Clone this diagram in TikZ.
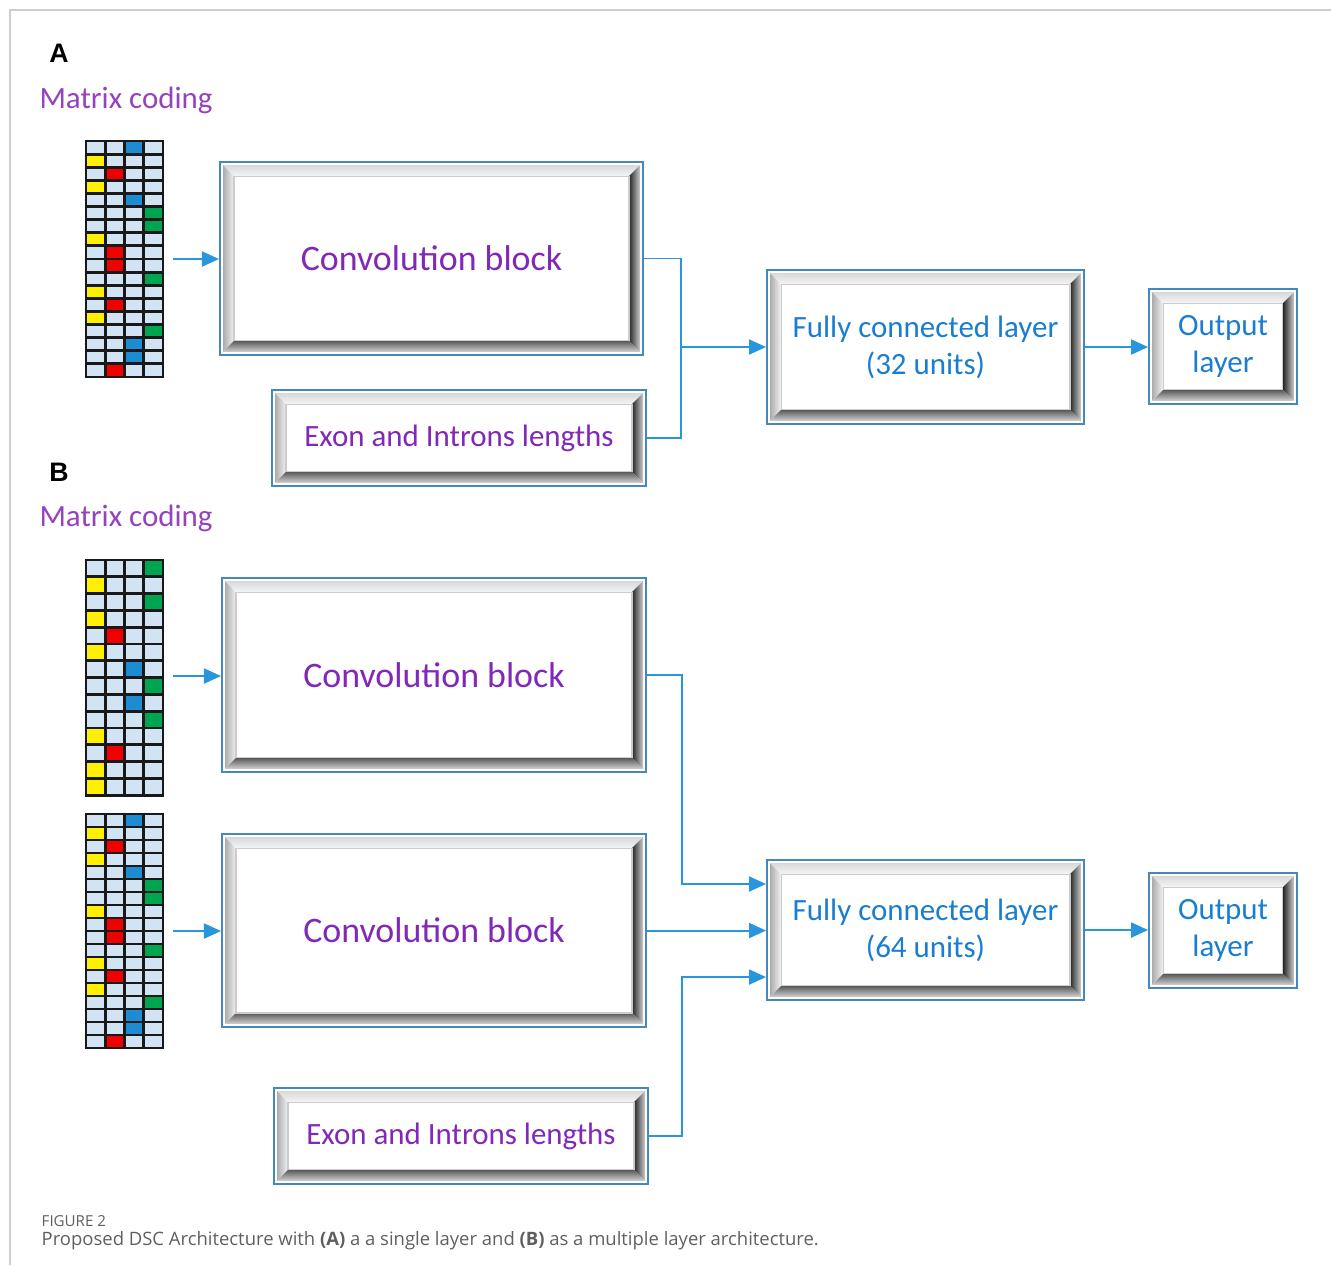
\documentclass[tikz,border=0pt]{standalone}
\usepackage{fontspec}
\usepackage{tikz}
\usetikzlibrary{arrows.meta,calc}
\newfontfamily\boxfont{Carlito}
\newfontfamily\capfont{Open Sans}
\newfontfamily\labfont{Liberation Sans}
\definecolor{linkblue}{RGB}{40,150,220}
\definecolor{edgeblue}{RGB}{70,135,190}
\definecolor{convpurple}{RGB}{130,40,185}
\definecolor{labpurple}{RGB}{150,65,190}
\definecolor{fcblue}{RGB}{25,125,210}
\definecolor{cellbg}{RGB}{210,228,244}
\definecolor{col1}{RGB}{255,240,0}
\definecolor{col2}{RGB}{240,0,0}
\definecolor{col3}{RGB}{30,140,210}
\definecolor{col4}{RGB}{0,165,80}
\definecolor{framegray}{RGB}{205,205,205}
\definecolor{capgray}{RGB}{95,95,95}
\tikzset{
  block/.style={draw=edgeblue,line width=0.5pt,fill=white,inner sep=0pt,align=center,
    font=\boxfont\fontsize{10.2}{12}\selectfont,text=convpurple},
  sideblock/.style={block,font=\boxfont\fontsize{8.8}{10.5}\selectfont},
  fcblock/.style={block,font=\boxfont\fontsize{8.8}{10.5}\selectfont,text=fcblue},
  link/.style={draw=linkblue,line width=0.55pt},
  flow/.style={link,-{Triangle[length=0.17cm,width=0.15cm]}},
  cellline/.style={draw=black!90,line width=0.8pt},
  panel/.style={font=\labfont\bfseries\fontsize{7.6}{8}\selectfont},
  coding/.style={font=\boxfont\fontsize{8.8}{10}\selectfont,text=labpurple}
}
% sequence matrix: x0, y0, row height, coloured column of each row
\newcommand\seqgrid[4]{%
  \begin{scope}[shift={(#1,#2)}]
    \foreach \cl [count=\row] in {#4}{
      \fill[cellbg] (0,{(\row-1)*#3}) rectangle ++(77,#3);
      \fill[fill=col\cl] ({(\cl-1)*19.25},{(\row-1)*#3}) rectangle ++(19.25,#3);
      \foreach \k in {1,...,4}
        \draw[cellline] ({(\k-1)*19.25},{(\row-1)*#3}) rectangle ++(19.25,#3);
    }
  \end{scope}}
% bevelled frame inside a block
\newcommand\bevel[1]{%
  \coordinate (o1) at ([shift={(4,4)}]#1.north west);
  \coordinate (o2) at ([shift={(-4,4)}]#1.north east);
  \coordinate (o3) at ([shift={(-4,-4)}]#1.south east);
  \coordinate (o4) at ([shift={(4,-4)}]#1.south west);
  \coordinate (i1) at ([shift={(15,15)}]#1.north west);
  \coordinate (i2) at ([shift={(-15,15)}]#1.north east);
  \coordinate (i3) at ([shift={(-15,-15)}]#1.south east);
  \coordinate (i4) at ([shift={(15,-15)}]#1.south west);
  \shade[top color=gray!30,bottom color=gray!8] (o1)--(o2)--(i2)--(i1)--cycle;
  \shade[left color=gray!65,right color=gray!10] (o1)--(i1)--(i4)--(o4)--cycle;
  \shade[left color=black!85,right color=gray!40] (i2)--(o2)--(o3)--(i3)--cycle;
  \shade[top color=black!65,bottom color=gray!35] (i4)--(i3)--(o3)--(o4)--cycle;
  \draw[gray!40,line width=0.3pt] (i1) rectangle (i3);}

\begin{document}
\begin{tikzpicture}[x=0.01cm,y=-0.01cm]
\useasboundingbox (0,0) rectangle (1331,1265);
\draw[framegray,line width=0.4pt] (10,1265)--(10,10)--(1331,10);

% (A) single layer
\node[panel] (labA) at (59,53) {A};
\node[coding] (codA) at (126,100) {Matrix coding};
\seqgrid{86}{141}{13.11}{3,1,2,1,3,4,4,1,2,2,4,1,2,1,4,3,3,2}
\coordinate (gA) at (163,259);
\node[block,minimum width=4.23cm,minimum height=1.93cm] (convA) at (431.5,258.5) {Convolution block};
\node[sideblock,minimum width=3.74cm,minimum height=0.96cm] (exonA) at (459,438) {Exon and Introns lengths};
\node[fcblock,minimum width=3.17cm,minimum height=1.54cm] (fcA) at (925.5,347) {Fully connected layer\\(32 units)};
\node[fcblock,minimum width=1.48cm,minimum height=1.15cm] (outA) at (1223,346.5) {Output\\layer};
\foreach \b in {convA,exonA,fcA,outA} \bevel{\b};
\coordinate (jA) at (681,347);
\draw[flow,shorten <=0.1cm] (gA) -- (gA -| convA.west);
\draw[link] (convA.east) -| (jA);
\draw[link] (exonA.east) -| (jA);
\draw[flow] (jA) -- (fcA.west);
\draw[flow] (fcA.east) -- (fcA.east -| outA.west);

% (B) multiple layers
\node[panel] (labB) at (59,472) {B};
\node[coding] (codB) at (126,518) {Matrix coding};
\seqgrid{86}{560}{16.79}{4,1,4,1,2,1,3,4,3,4,1,2,1,1}
\seqgrid{86}{814}{13.0}{3,1,2,1,3,4,4,1,2,2,4,1,2,1,4,3,3,2}
\coordinate (gB1) at (163,676);
\coordinate (gB2) at (163,931);
\node[block,minimum width=4.24cm,minimum height=1.94cm] (convBa) at (434,675) {Convolution block};
\node[block,minimum width=4.24cm,minimum height=1.93cm] (convBb) at (434,930.5) {Convolution block};
\node[sideblock,minimum width=3.74cm,minimum height=0.96cm] (exonB) at (461,1136) {Exon and Introns lengths};
\node[fcblock,minimum width=3.17cm,minimum height=1.40cm] (fcB) at (925.5,930) {Fully connected layer\\(64 units)};
\node[fcblock,minimum width=1.48cm,minimum height=1.15cm] (outB) at (1223,930.5) {Output\\layer};
\foreach \b in {convBa,convBb,exonB,fcB,outB} \bevel{\b};
\draw[flow,shorten <=0.1cm] (gB1) -- (gB1 -| convBa.west);
\draw[flow,shorten <=0.1cm] (gB2) -- (gB2 -| convBb.west);
\draw[flow] (convBa.east) -- ++(35,0) |- ([yshift=0.46cm]fcB.west);
\draw[flow] (convBb.east) -- (convBb.east -| fcB.west);
\draw[flow] (exonB.east) -- ++(33,0) |- ([yshift=-0.47cm]fcB.west);
\draw[flow] (fcB.east) -- (fcB.east -| outB.west);

% caption
\node[anchor=base west,inner sep=0pt,text=capgray,font=\capfont\fontsize{4.3}{5}\selectfont] (fig) at (41,1226) {FIGURE 2};
\node[anchor=base west,inner sep=0pt,text=capgray,font=\capfont\fontsize{5.25}{6}\selectfont] (cap) at (41,1245)
  {Proposed DSC Architecture with \textbf{(A)} a a single layer and \textbf{(B)} as a multiple layer architecture.};
\end{tikzpicture}
\end{document}
